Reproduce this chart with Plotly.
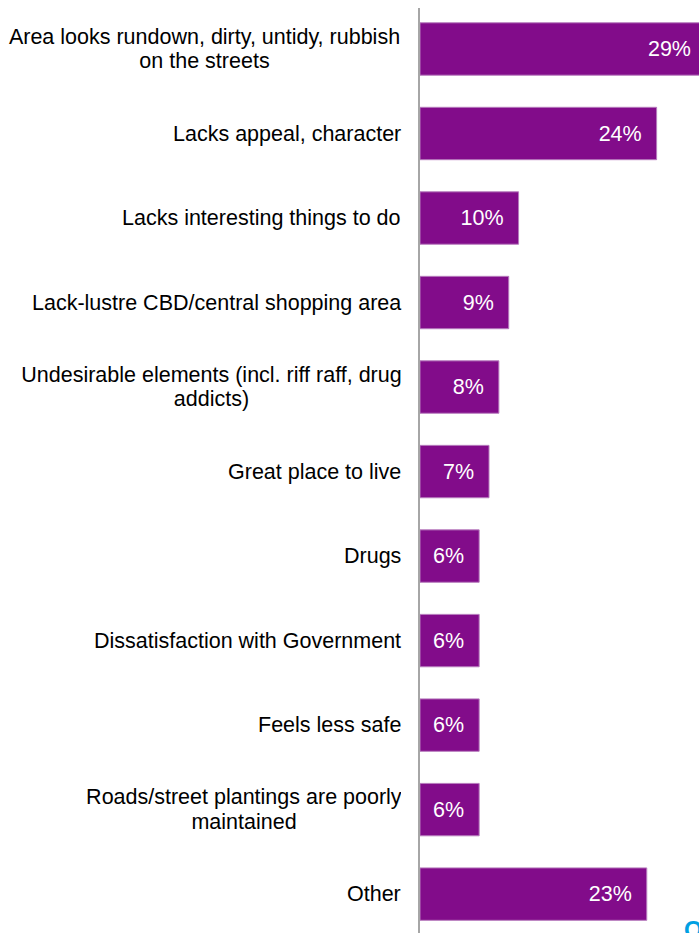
import plotly.graph_objects as go

categories = [
    "Area looks rundown, dirty, untidy, rubbish<br>on the streets",
    "Lacks appeal, character",
    "Lacks interesting things to do",
    "Lack-lustre CBD/central shopping area",
    "Undesirable elements (incl. riff raff, drug<br>addicts)",
    "Great place to live",
    "Drugs",
    "Dissatisfaction with Government",
    "Feels less safe",
    "Roads/street plantings are poorly<br>maintained",
    "Other",
]
values = [29, 24, 10, 9, 8, 7, 6, 6, 6, 6, 23]
value_labels = [f"{v}%\u00a0\u00a0" for v in values]

BAR = "#820c8a"
FONT = "Liberation Sans, Arial, sans-serif"
FS = 21.5
LINE_H = 24.5
# approximate pixel width of the widest line of each wrapped label block
BLOCK_W = {0: 393, 4: 379, 9: 314}

fig = go.Figure()
fig.add_trace(go.Bar(
    x=values, y=list(range(len(categories))), orientation="h",
    marker=dict(color=BAR, line=dict(color="#b77cbd", width=1)),
    width=0.62, hoverinfo="skip",
    text=value_labels, textposition="inside", insidetextanchor="end",
    textfont=dict(family=FONT, size=FS, color="#ffffff"),
    textangle=0,
))

annotations = []
for i, c in enumerate(categories):
    lines = c.split("<br>")
    n = len(lines)
    for k, line in enumerate(lines):
        a = dict(
            x=0, y=i, xref="x", yref="y", text=line, showarrow=False,
            xanchor="right", yanchor="middle", align="center",
            xshift=-17, yshift=((n - 1) / 2 - k) * LINE_H,
            font=dict(family=FONT, size=FS, color="#000000"),
        )
        if n > 1:
            a["width"] = BLOCK_W[i]
        annotations.append(a)

annotations.append(dict(
    x=1, y=0, xref="paper", yref="paper", text="<b>O</b>", showarrow=False,
    xanchor="left", yanchor="top", xshift=-17, yshift=19,
    font=dict(family=FONT, size=24, color="#00a0e3"),
))

fig.update_layout(
    width=699, height=933,
    margin=dict(l=420, r=0, t=8, b=0),
    plot_bgcolor="white", paper_bgcolor="white",
    showlegend=False,
    annotations=annotations,
    xaxis=dict(range=[0, 28.3], visible=False, fixedrange=True),
    yaxis=dict(range=[10.46, -0.485], showticklabels=False, ticks="",
               showgrid=False, zeroline=False, fixedrange=True,
               showline=True, linecolor="#a6a6a6", linewidth=2),
)

fig.write_html(
    "out.html",
    config={"displayModeBar": False},
    post_script="document.body.style.margin='0';document.body.style.overflow='hidden';",
)
